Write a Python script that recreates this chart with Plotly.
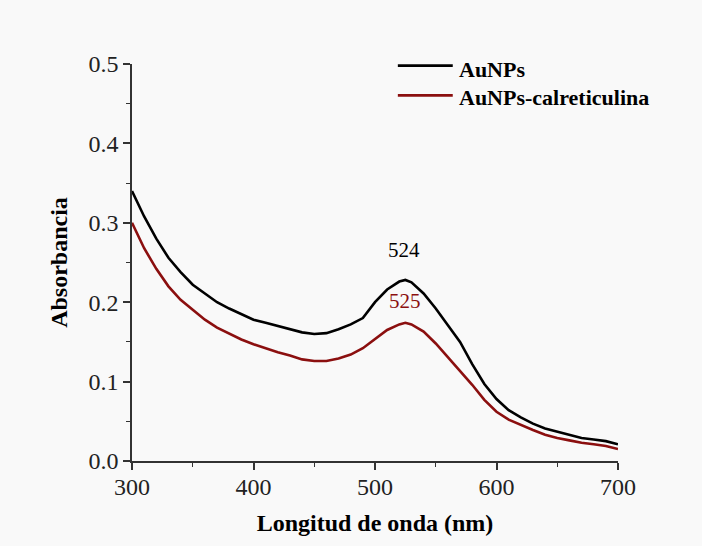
import plotly.graph_objects as go

# Wavelength grid (nm) and measured absorbance for each sample
wavelength = [300, 310, 320, 330, 340, 350, 360, 370, 380, 390, 400, 410, 420, 430, 440,
              450, 460, 470, 480, 490, 500, 510, 520, 525, 530, 540, 550, 560, 570, 580,
              590, 600, 610, 620, 630, 640, 650, 660, 670, 680, 690, 700]

abs_aunps = [0.340, 0.308, 0.280, 0.256, 0.238, 0.222, 0.211, 0.200, 0.192, 0.185, 0.178,
             0.174, 0.170, 0.166, 0.162, 0.160, 0.161, 0.166, 0.172, 0.180, 0.200, 0.216,
             0.226, 0.228, 0.225, 0.211, 0.192, 0.171, 0.150, 0.122, 0.097, 0.078, 0.064,
             0.055, 0.047, 0.041, 0.037, 0.033, 0.029, 0.027, 0.025, 0.021]

abs_calret = [0.300, 0.268, 0.242, 0.220, 0.203, 0.190, 0.178, 0.168, 0.160, 0.153, 0.147,
              0.142, 0.137, 0.133, 0.128, 0.126, 0.126, 0.129, 0.134, 0.142, 0.154, 0.165,
              0.172, 0.174, 0.172, 0.163, 0.148, 0.131, 0.114, 0.096, 0.077, 0.062, 0.052,
              0.045, 0.039, 0.033, 0.029, 0.026, 0.023, 0.021, 0.019, 0.015]

series_names = ["AuNPs", "AuNPs-calreticulina"]
series_colors = ["#000000", "#8b0f0f"]

# Peak positions labelled above each band (nm, absorbance)
peak_nm = [524, 525]
peak_abs = [0.228, 0.174]

SERIF = "Liberation Serif, Times New Roman, serif"

fig = go.Figure()
for name, y, color in zip(series_names, [abs_aunps, abs_calret], series_colors):
    fig.add_trace(go.Scatter(x=wavelength, y=y, mode="lines", name=name,
                             line=dict(color=color, width=2.6), showlegend=False))

# Peak labels
for nm, a, color, dy in zip(peak_nm, peak_abs, series_colors, [0.038, 0.028]):
    fig.add_annotation(x=nm, y=a + dy, text=str(nm), showarrow=False, xref="x", yref="y",
                       font=dict(family=SERIF, size=21, color=color))

# Legend drawn in the upper right corner of the plot area
legend_line_y = [0.996, 0.921]
legend_text_y = [0.985, 0.915]
for name, color, ly, ty in zip(series_names, series_colors, legend_line_y, legend_text_y):
    fig.add_shape(type="line", xref="paper", yref="paper", x0=0.547, x1=0.66, y0=ly, y1=ly,
                  line=dict(color=color, width=2.6))
    fig.add_annotation(xref="paper", yref="paper", x=0.668, y=ty, xanchor="left",
                       yanchor="middle", text=f"<b>{name}</b>", showarrow=False,
                       font=dict(family=SERIF, size=22, color="#000000"))

axis_common = dict(
    showgrid=False, zeroline=False, showline=True, linecolor="#333333", linewidth=1.6,
    ticks="outside", ticklen=7, tickwidth=1.6, tickcolor="#333333",
    tickfont=dict(family=SERIF, size=24, color="#222222"),
    mirror=False,
)

fig.update_xaxes(range=[300, 700], dtick=100, tick0=300, ticklabelstandoff=-4,
                 minor=dict(dtick=50, ticklen=4, ticks="outside", tickcolor="#333333", tickwidth=1.4),
                 title=dict(text="<b>Longitud de onda (nm)</b>", standoff=16,
                            font=dict(family=SERIF, size=24, color="#000000")),
                 **axis_common)
fig.update_yaxes(range=[0, 0.5], dtick=0.1, tick0=0, tickformat=".1f",
                 minor=dict(dtick=0.05, ticklen=4, ticks="outside", tickcolor="#333333", tickwidth=1.4),
                 title=dict(text="<b>Absorbancia</b>", standoff=14,
                            font=dict(family=SERIF, size=24, color="#000000")),
                 **axis_common)

fig.update_layout(
    width=702, height=546,
    margin=dict(l=132, r=84, t=64, b=85),
    paper_bgcolor="#f9f9f9", plot_bgcolor="#f9f9f9",
    showlegend=False,
)

fig.write_html("out.html")
